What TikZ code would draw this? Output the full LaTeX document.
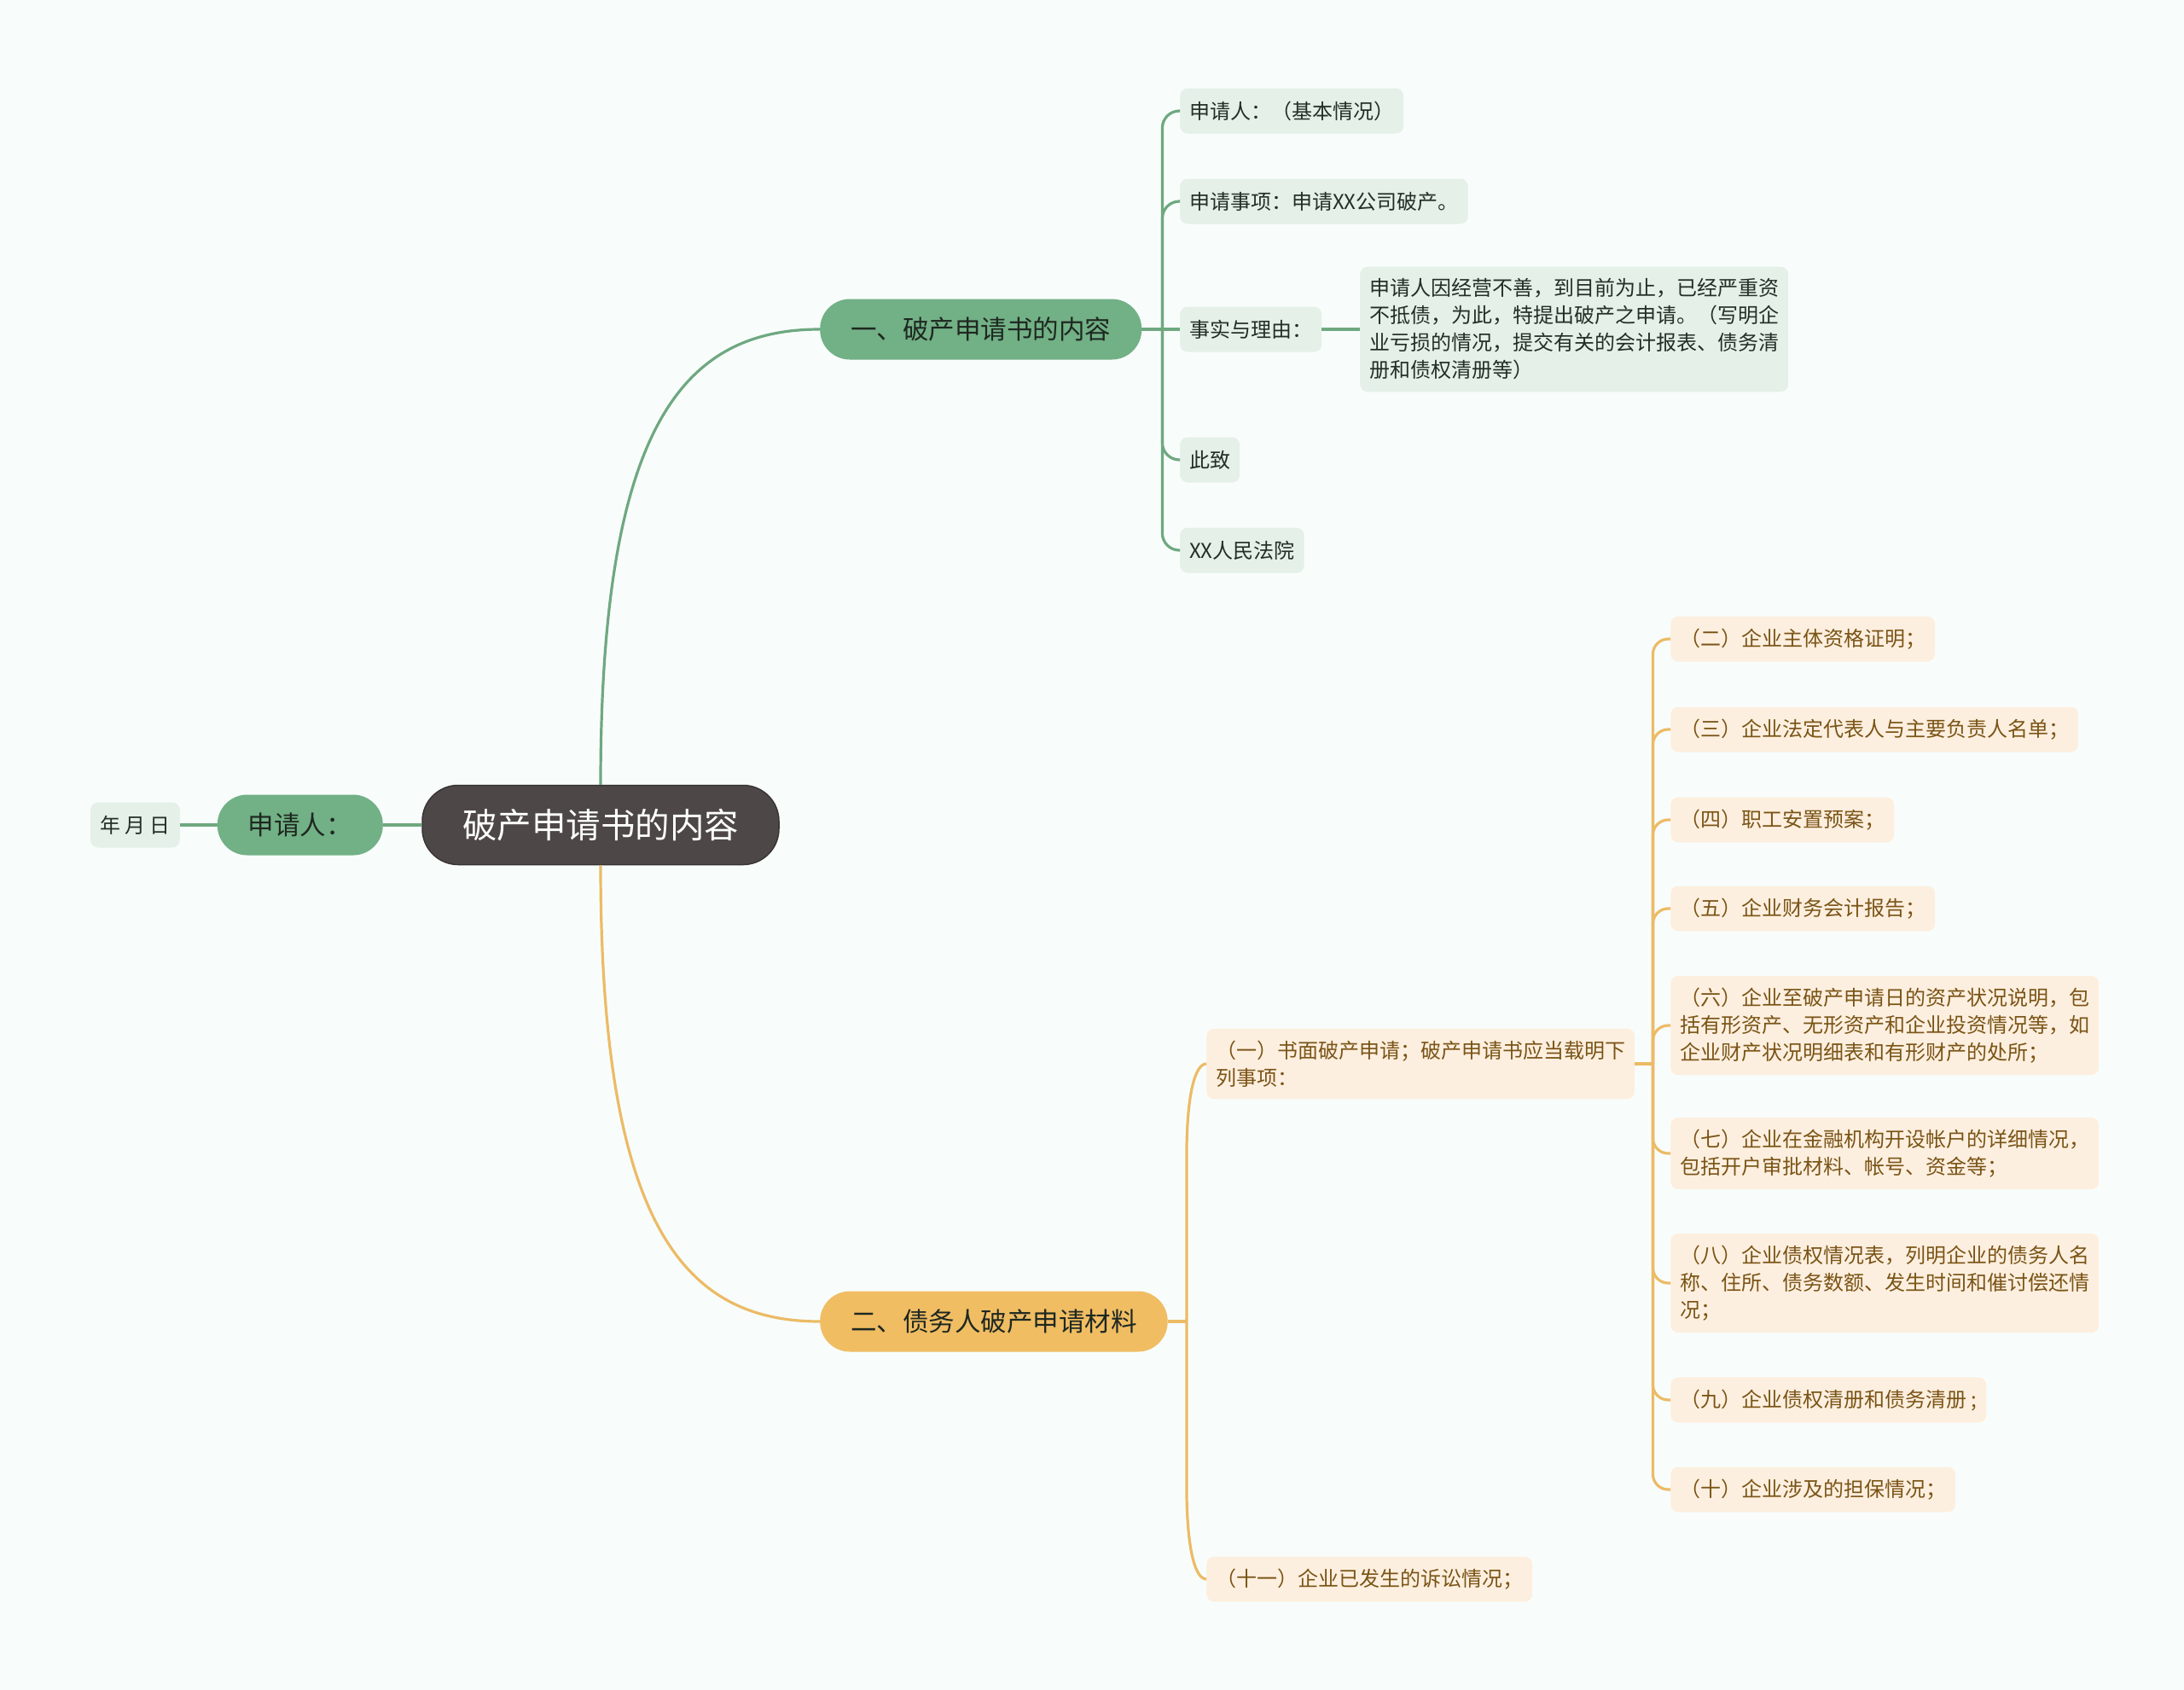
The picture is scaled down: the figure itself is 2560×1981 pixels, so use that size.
\documentclass[tikz,border=0pt]{standalone}
\usepackage{fontspec}
\setmainfont{Noto Sans CJK SC}
\usepackage{tikz}
\usetikzlibrary{calc}
\definecolor{paper}{RGB}{248,253,252}
\definecolor{rootgray}{RGB}{77,71,71}
\definecolor{rootedge}{RGB}{58,53,53}
\definecolor{mindgreen}{RGB}{114,176,133}
\definecolor{mindorange}{RGB}{240,189,99}
\definecolor{softgreen}{RGB}{228,240,232}
\definecolor{softorange}{RGB}{253,239,223}
\definecolor{linegreen}{RGB}{111,168,128}
\definecolor{lineorange}{RGB}{236,187,102}
\definecolor{inkgreen}{RGB}{34,46,38}
\definecolor{inkbrown}{RGB}{122,84,22}
\definecolor{inkdark}{RGB}{30,40,33}

\begin{document}
\begin{tikzpicture}[
      x=1pt, y=-1pt,
      root/.style={
          draw=rootedge, line width=1.5pt, fill=rootgray, text=white,
          rounded corners=42pt, minimum height=93pt, inner xsep=47pt,
          font=\fontsize{40.5}{48}\selectfont
      },
      topic/.style={
          rounded corners=35pt, minimum height=71pt, inner xsep=36pt,
          font=\fontsize{30.5}{36}\selectfont
      },
      gtopic/.style={topic, fill=mindgreen, text=inkdark},
      otopic/.style={topic, fill=mindorange, text=inkdark},
      leaf/.style={
          rounded corners=9pt, inner xsep=11pt, inner ysep=14pt,
          minimum height=53pt, align=left,
          font=\fontsize{24}{32}\selectfont
      },
      gleaf/.style={leaf, fill=softgreen, text=inkgreen},
      oleaf/.style={leaf, fill=softorange, text=inkbrown},
      gline/.style={draw=linegreen, line width=3.2pt},
      oline/.style={draw=lineorange, line width=3.2pt}
  ]
      \fill[paper] (0,0) rectangle (2560,1981);

      % Centre
      \node[root] (root) at (704,967) {破产申请书的内容};
      \node[gtopic, anchor=east] (appl) at (449,967) {申请人：};
      \node[gleaf, anchor=east] (date) at (211,967) {年 月 日};

      % Branches
      \node[gtopic, anchor=west] (b1) at (961,386) {一、破产申请书的内容};
      \node[otopic, anchor=west] (b2) at (961,1549) {二、债务人破产申请材料};

      % Branch one
      \node[gleaf, anchor=west] (c1) at (1383,130) {申请人：（基本情况）};
      \node[gleaf, anchor=west] (c2) at (1383,236) {申请事项：申请XX公司破产。};
      \node[gleaf, anchor=west] (c3) at (1383,386) {事实与理由：};
      \node[gleaf, anchor=west] (c3a) at (1594,386) {申请人因经营不善，到目前为止，已经严重资\\
          不抵债，为此，特提出破产之申请。（写明企\\
          业亏损的情况，提交有关的会计报表、债务清\\
          册和债权清册等）};
      \node[gleaf, anchor=west] (c4) at (1383,539) {此致};
      \node[gleaf, anchor=west] (c5) at (1383,645) {XX人民法院};

      % Branch two
      \node[oleaf, anchor=west] (d1) at (1414,1247) {（一）书面破产申请；破产申请书应当载明下\\
          列事项：};
      \node[oleaf, anchor=west] (d2) at (1414,1851) {（十一）企业已发生的诉讼情况；};

      \node[oleaf, anchor=west] (e2) at (1958,749) {（二）企业主体资格证明；};
      \node[oleaf, anchor=west] (e3) at (1958,855) {（三）企业法定代表人与主要负责人名单；};
      \node[oleaf, anchor=west] (e4) at (1958,961) {（四）职工安置预案；};
      \node[oleaf, anchor=west] (e5) at (1958,1065) {（五）企业财务会计报告；};
      \node[oleaf, anchor=west] (e6) at (1958,1202) {（六）企业至破产申请日的资产状况说明，包\\
          括有形资产、无形资产和企业投资情况等，如\\
          企业财产状况明细表和有形财产的处所；};
      \node[oleaf, anchor=west] (e7) at (1958,1352) {（七）企业在金融机构开设帐户的详细情况，\\
          包括开户审批材料、帐号、资金等；};
      \node[oleaf, anchor=west] (e8) at (1958,1504) {（八）企业债权情况表，列明企业的债务人名\\
          称、住所、债务数额、发生时间和催讨偿还情\\
          况；};
      \node[oleaf, anchor=west] (e9) at (1958,1641) {（九）企业债权清册和债务清册 ;};
      \node[oleaf, anchor=west] (e10) at (1958,1746) {（十）企业涉及的担保情况；};

      % Links
      \draw[gline] (root.west) -- (appl.east);
      \draw[gline] (appl.west) -- (date.east);
      \draw[gline] (root.north) .. controls +(0,-421) and +(-160,0) .. (b1.west);
      \draw[oline] (root.south) .. controls +(0,421) and +(-160,0) .. (b2.west);

      \coordinate (j1) at ($(b1.east)+(24,0)$);
      \draw[gline] (b1.east) -- (j1);
      \foreach \c in {c1,c2,c4,c5}
          \draw[gline, rounded corners=20pt] (j1) |- (\c.west);
      \draw[gline] (j1) -- (c3.west);
      \draw[gline] (c3.east) -- (c3a.west);

      \coordinate (j2) at ($(b2.east)+(22,0)$);
      \draw[oline] (b2.east) -- (j2);
      \draw[oline] (j2) -- ($(j2 |- d1.west)+(0,110)$)
          .. controls ($(j2 |- d1.west)+(0,30)$) and ($(d1.west)+(-12,0)$) .. (d1.west);
      \draw[oline] (j2) -- ($(j2 |- d2.west)+(0,-110)$)
          .. controls ($(j2 |- d2.west)+(0,-30)$) and ($(d2.west)+(-12,0)$) .. (d2.west);

      \coordinate (j3) at ($(d1.east)+(21,0)$);
      \draw[oline] (d1.east) -- (j3);
      \foreach \e in {e2,e3,e4,e5,e6,e7,e8,e9,e10}
          \draw[oline, rounded corners=18pt] (j3) |- (\e.west);
  \end{tikzpicture}
\end{document}
